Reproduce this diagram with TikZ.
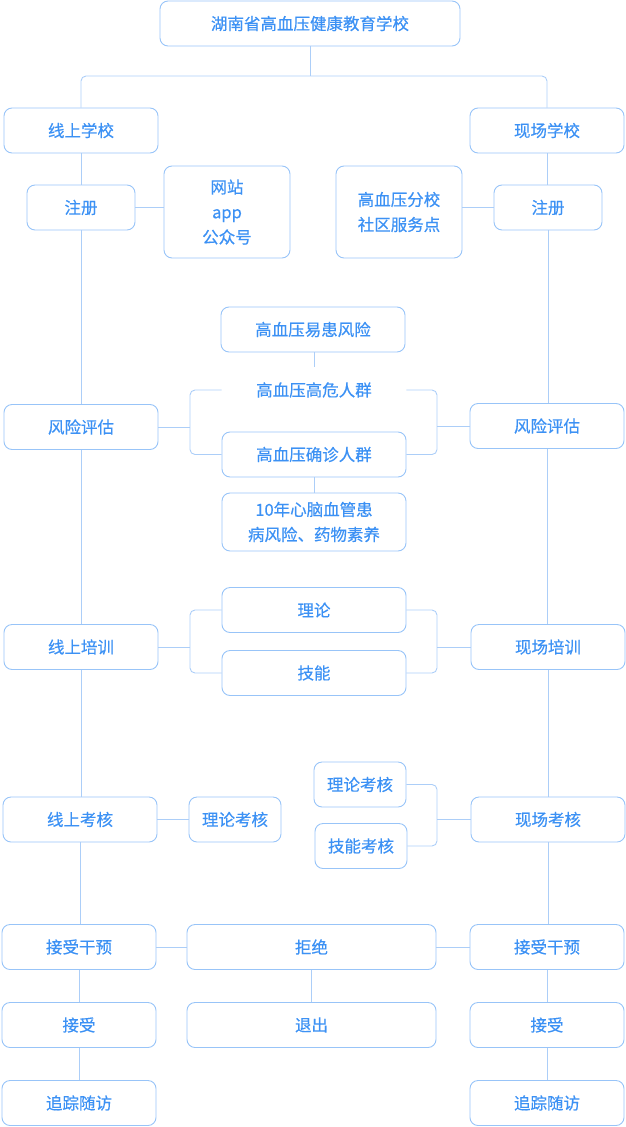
\documentclass[tikz,border=0pt]{standalone}
\usepackage{fontspec}
\setmainfont[FakeBold=0.5]{Noto Sans CJK SC}
\usepackage{tikz}
\definecolor{bord}{RGB}{152,196,248}
\definecolor{trait}{RGB}{172,206,248}
\definecolor{texte}{RGB}{60,145,244}
\tikzset{
  cadre/.style={draw=bord, line width=0.9pt, rounded corners=8pt, text=texte,
    inner sep=0pt, minimum width=154pt, minimum height=45pt, align=center,
    font=\fontsize{16.5}{25}\selectfont},
  libre/.style={cadre, draw=none},
  lien/.style={draw=trait, line width=0.9pt, rounded corners=5pt}
}
\begin{document}
\begin{tikzpicture}[x=1pt,y=-1pt]
\useasboundingbox (0,0) rectangle (626,1127);

% ecole et deux branches
\node [cadre, minimum width=300pt] (ecole) at (310,23.5) {湖南省高血压健康教育学校};
\node [cadre] (xsxx) at (81,130.5) {线上学校};
\node [cadre] (xcxx) at (547,130.5) {现场学校};
\coordinate (fourche) at (310,76);
\draw [lien] (ecole) -- (fourche);
\draw [lien] (xsxx.north) |- (fourche) -| (xcxx.north);

% inscription
\node [cadre, minimum width=108pt] (zc1) at (81,207.5) {注册};
\node [cadre, minimum width=108pt] (zc2) at (548,207.5) {注册};
\node [cadre, minimum width=126pt, minimum height=92pt] (wz) at (227,212) {网站\\app\\公众号};
\node [cadre, minimum width=126pt, minimum height=92pt] (fx) at (399,212) {高血压分校\\社区服务点};
\draw [lien] (zc1.east) -- (zc1.east -| wz.west);
\draw [lien] (zc2.west -| fx.east) -- (zc2.west);

% evaluation du risque
\node [cadre] (pg1) at (81,427) {风险评估};
\node [cadre] (pg2) at (547,426) {风险评估};
\node [cadre, minimum width=184pt] (yh) at (313,329.5) {高血压易患风险};
\node [libre, minimum width=184pt] (gw) at (314,390) {高血压高危人群};
\node [cadre, minimum width=184pt] (qz) at (314,454.5) {高血压确诊人群};
\node [cadre, minimum width=184pt, minimum height=58pt] (xn) at (314,522) {10年心脑血管患\\病风险、药物素养};
\draw [lien] (yh.south -| gw) -- (gw);
\draw [lien] (qz) -- (xn);
\coordinate (g1) at (pg1.east -| 190,0);
\coordinate (d1) at (pg2.west -| 437,0);
\draw [lien] (gw.west) -| (g1) |- (qz.west);
\draw [lien] (gw.east) -| (d1) |- (qz.east);
\draw [lien] (pg1.east) -- (g1);
\draw [lien] (d1) -- (pg2.west);

% formation
\node [cadre] (px1) at (81,647) {线上培训};
\node [cadre] (px2) at (548,647) {现场培训};
\node [cadre, minimum width=184pt] (ll) at (314,610) {理论};
\node [cadre, minimum width=184pt] (jn) at (314,673) {技能};
\coordinate (g2) at (px1.east -| 190,0);
\coordinate (d2) at (px2.west -| 437,0);
\draw [lien] (ll.west) -| (g2) |- (jn.west);
\draw [lien] (ll.east) -| (d2) |- (jn.east);
\draw [lien] (px1.east) -- (g2);
\draw [lien] (d2) -- (px2.west);

% evaluation
\node [cadre] (kh1) at (80,819.5) {线上考核};
\node [cadre] (kh2) at (548,819.5) {现场考核};
\node [cadre, minimum width=92pt] (llk1) at (235,819.5) {理论考核};
\node [cadre, minimum width=92pt] (llk2) at (360,784.5) {理论考核};
\node [cadre, minimum width=92pt] (jnk) at (361,846) {技能考核};
\coordinate (d3) at (kh2.west -| 437,0);
\draw [lien] (kh1) -- (llk1);
\draw [lien] (llk2.east) -| (d3) |- (jnk.east);
\draw [lien] (d3) -- (kh2.west);

% intervention et suivi
\node [cadre] (gy1) at (79,947) {接受干预};
\node [cadre] (gy2) at (547,947) {接受干预};
\node [cadre, minimum width=249pt] (jj) at (311.5,947) {拒绝};
\node [cadre] (js1) at (79,1025) {接受};
\node [cadre] (js2) at (547,1025) {接受};
\node [cadre, minimum width=249pt] (tc) at (311.5,1025) {退出};
\node [cadre] (zz1) at (79,1103) {追踪随访};
\node [cadre] (zz2) at (547,1103) {追踪随访};
\draw [lien] (gy1) -- (jj);
\draw [lien] (jj) -- (gy2);
\draw [lien] (jj) -- (tc);

% colonnes verticales
\draw [lien] (xsxx) -- (zc1);
\draw [lien] (zc1) -- (pg1);
\draw [lien] (pg1) -- (px1);
\draw [lien] (px1.south) -- (kh1.north -| px1.south);
\draw [lien] (kh1.south) -- (gy1.north -| kh1.south);
\draw [lien] (gy1) -- (js1);
\draw [lien] (js1) -- (zz1);
\draw [lien] (xcxx.south) -- (zc2.north -| xcxx.south);
\draw [lien] (zc2.south) -- (pg2.north -| zc2.south);
\draw [lien] (pg2.south) -- (px2.north -| pg2.south);
\draw [lien] (px2) -- (kh2);
\draw [lien] (kh2.south) -- (gy2.north -| kh2.south);
\draw [lien] (gy2) -- (js2);
\draw [lien] (js2) -- (zz2);

\end{tikzpicture}
\end{document}
